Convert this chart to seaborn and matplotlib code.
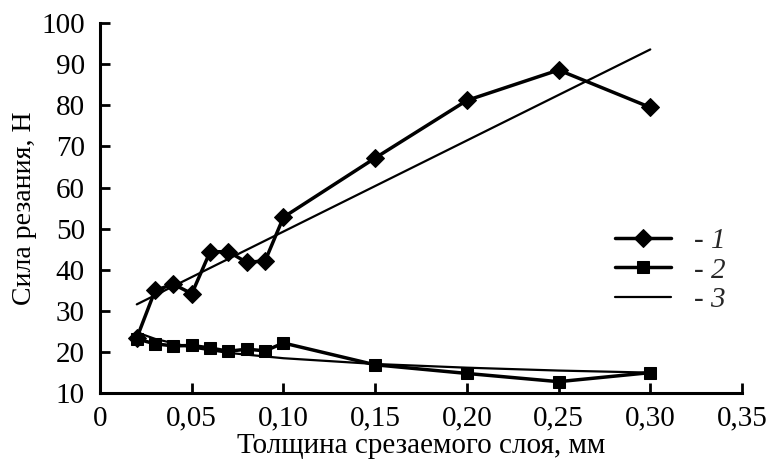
import seaborn as sns
import matplotlib.pyplot as plt
import pandas as pd

# thickness of cut layer, mm
x = [0.02, 0.03, 0.04, 0.05, 0.06, 0.07, 0.08, 0.09, 0.10, 0.15, 0.20, 0.25, 0.30]
# curve 1 (diamonds)
force1 = [23.4, 35.0, 36.5, 34.2, 44.4, 44.4, 41.8, 42.2, 52.8, 67.2, 81.2, 88.6, 79.5]
# curve 2 (squares)
force2 = [23.2, 22.0, 21.5, 21.6, 21.0, 20.2, 20.7, 20.3, 22.2, 16.9, 14.8, 12.8, 15.0]
# curve 3: approximations
trend1_x = [0.02, 0.30]
trend1_y = [31.6, 93.6]
trend2_x = [0.02, 0.03, 0.05, 0.07, 0.10, 0.15, 0.20, 0.25, 0.30]
trend2_y = [24.8, 23.2, 21.1, 19.8, 18.5, 17.1, 16.2, 15.5, 15.0]

labels = ["1", "2", "3"]
xtick_labels = ["0", "0,05", "0,10", "0,15", "0,20", "0,25", "0,30", "0,35"]

df1 = pd.DataFrame({"x": x, "y": force1})
df2 = pd.DataFrame({"x": x, "y": force2})
t1 = pd.DataFrame({"x": trend1_x, "y": trend1_y})
t2 = pd.DataFrame({"x": trend2_x, "y": trend2_y})

sns.set_theme(style="ticks")
plt.rcParams['font.family'] = ['Liberation Serif', 'DejaVu Serif']

fig, ax = plt.subplots(figsize=(7.7, 4.72), dpi=100)
fig.subplots_adjust(left=0.13, right=0.9636, bottom=0.167, top=0.951)

# thin approximation lines first, data on top
sns.lineplot(data=t1, x="x", y="y", color="black", lw=1.6, ax=ax, label="- " + labels[2])
sns.lineplot(data=t2, x="x", y="y", color="black", lw=1.6, ax=ax)
sns.lineplot(data=df1, x="x", y="y", color="black", lw=2.5, marker="D",
             markersize=9, markeredgecolor="black", ax=ax, label="- " + labels[0])
sns.lineplot(data=df2, x="x", y="y", color="black", lw=2.5, marker="s",
             markersize=9, markeredgecolor="black", ax=ax, label="- " + labels[1])

ax.set_xlim(0, 0.35)
ax.set_ylim(10, 100)
ax.set_xticks([0, 0.05, 0.10, 0.15, 0.20, 0.25, 0.30, 0.35])
ax.set_xticklabels(xtick_labels)
ax.set_yticks(range(10, 101, 10))
ax.tick_params(direction="in", length=7, width=2, labelsize=21, colors="black")
ax.tick_params(axis="y", pad=11)
ax.tick_params(axis="x", pad=9)

for s in ["top", "right"]:
    ax.spines[s].set_visible(False)
for s in ["left", "bottom"]:
    ax.spines[s].set_linewidth(2.2)
    ax.spines[s].set_color("black")

ax.set_xlabel("Толщина срезаемого слоя, мм", fontsize=21, color="black", labelpad=1)
ax.set_ylabel("Сила резания, Н", fontsize=20, color="black", labelpad=3)

handles, labs = ax.get_legend_handles_labels()
order = [1, 2, 0]
leg = ax.legend([handles[i] for i in order], [labs[i] for i in order],
                loc="center left", bbox_to_anchor=(0.762, 0.332), frameon=False,
                fontsize=21, handlelength=1.9, labelspacing=0.1, handletextpad=0.8)
for t in leg.get_texts():
    t.set_fontstyle("italic")

fig.savefig("out.png", dpi=100)
plt.close(fig)
